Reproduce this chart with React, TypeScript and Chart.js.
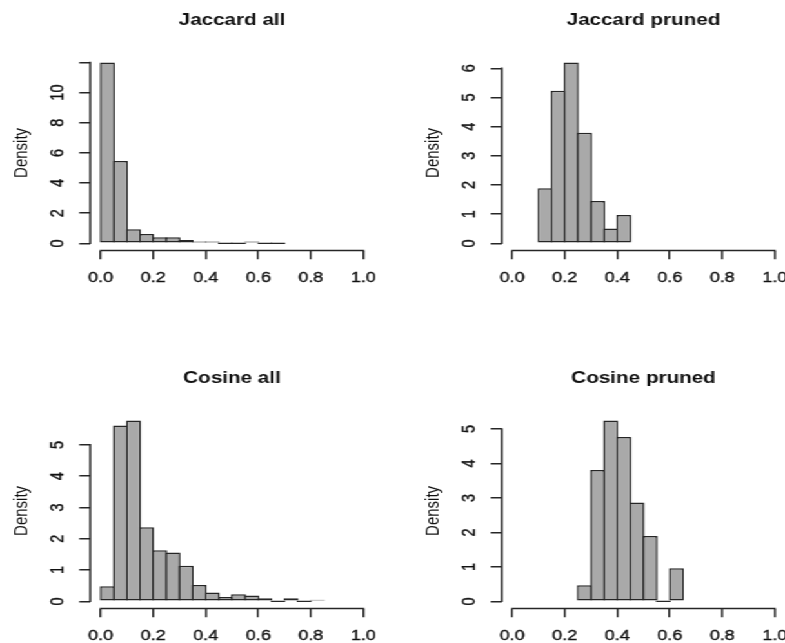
import React, { useEffect, useRef } from "react";
import { Chart, registerables } from "chart.js";

Chart.register(...registerables);

// ---------------- data ----------------
const binWidth = 0.05;
const xTickValues = [0, 0.2, 0.4, 0.6, 0.8, 1.0];
const xTickLabels = ["0.0", "0.2", "0.4", "0.6", "0.8", "1.0"];

const jaccardAllStart = 0;
const jaccardAllDensity = [12.0, 5.46, 0.93, 0.62, 0.41, 0.41, 0.22, 0.13, 0.13, 0, 0, 0.13, 0, 0];
const jaccardAllYTicks = [0, 2, 4, 6, 8, 10, 12];
const jaccardAllYLabels = ["0", "2", "4", "6", "8", "10", ""];

const jaccardPrunedStart = 0.1;
const jaccardPrunedDensity = [1.89, 5.23, 6.2, 3.79, 1.45, 0.51, 0.97];
const jaccardPrunedYTicks = [0, 1, 2, 3, 4, 5, 6];
const jaccardPrunedYLabels = ["0", "1", "2", "3", "4", "5", "6"];

const cosineAllStart = 0;
const cosineAllDensity = [0.48, 5.62, 5.78, 2.37, 1.63, 1.56, 1.14, 0.52, 0.28, 0.14, 0.23, 0.19, 0.1, 0, 0.1, 0, 0.05];
const cosineAllYTicks = [0, 1, 2, 3, 4, 5];
const cosineAllYLabels = ["0", "1", "2", "3", "4", "5"];

const cosinePrunedStart = 0.25;
const cosinePrunedDensity = [0.47, 3.81, 5.25, 4.77, 2.87, 1.9, 0, 0.96];
const cosinePrunedYTicks = [0, 1, 2, 3, 4, 5];
const cosinePrunedYLabels = ["0", "1", "2", "3", "4", "5"];

const panelTitles = ["Jaccard all", "Jaccard pruned", "Cosine all", "Cosine pruned"];

// ---------------- layout / style ----------------
const S = 1.29; // horizontal stretch of the picture
const PANEL_W = 412 / S;
const PANEL_H = 358;
const CANVAS_W = 320;
const AREA_LEFT = 69.92;
const AREA_RIGHT = 289.77;
const AREA_BOTTOM = 250.6;
const X_MIN = -0.04;
const X_MAX = 1.04;
const FONT = "'Liberation Sans', Arial, Helvetica, sans-serif";
const LINE = "#262626";
const FILL = "#a9a9a9";
const LW = 1.5;
const Y_TICK_FONT = 14.5;

const rAxisLines = {
  id: "rAxisLines",
  afterDraw(chart: any, _args: any, opts: any) {
    const { ctx, chartArea, scales } = chart;
    const xs = scales.x;
    const ys = scales.y;
    const xv = opts.xTicks as number[];
    const yv = opts.yTicks as number[];
    ctx.save();
    ctx.strokeStyle = LINE;
    ctx.lineWidth = LW;
    ctx.lineCap = "square";
    ctx.beginPath();
    ctx.moveTo(xs.getPixelForValue(xv[0]), chartArea.bottom);
    ctx.lineTo(xs.getPixelForValue(xv[xv.length - 1]), chartArea.bottom);
    ctx.moveTo(chartArea.left, ys.getPixelForValue(yv[0]));
    ctx.lineTo(chartArea.left, ys.getPixelForValue(yv[yv.length - 1]));
    ctx.stroke();
    ctx.restore();
  },
};

function measureWidest(labels: string[], size: number): number {
  const c = document.createElement("canvas").getContext("2d");
  if (!c) return 8;
  c.font = `${size}px ${FONT}`;
  let w = 0;
  for (const l of labels) w = Math.max(w, c.measureText(l).width);
  return w;
}

type PanelProps = {
  title: string;
  start: number;
  density: number[];
  yTicks: number[];
  yLabels: string[];
  left: number;
  top: number;
};

function Panel({ title, start, density, yTicks, yLabels, left, top }: PanelProps) {
  const ref = useRef<HTMLCanvasElement | null>(null);
  useEffect(() => {
    if (!ref.current) return;
    const ymax = Math.max(...density);
    const points = density.map((d, i) => ({ x: start + (i + 0.5) * binWidth, y: d }));
    const binPx = ((AREA_RIGHT - AREA_LEFT) / (X_MAX - X_MIN)) * binWidth;
    const widest = measureWidest(yLabels, Y_TICK_FONT);
    const yPad = 16.8 - widest / 2;
    const chart = new Chart(ref.current, {
      type: "bar",
      data: {
        datasets: [
          {
            data: points as any,
            backgroundColor: FILL,
            borderColor: LINE,
            borderWidth: LW,
            borderSkipped: false,
            barPercentage: (binPx + LW) / binPx,
            categoryPercentage: 1,
            minBarLength: LW,
            inflateAmount: 0,
          } as any,
        ],
      },
      options: {
        animation: false,
        responsive: false,
        devicePixelRatio: 1,
        events: [],
        layout: { padding: { left: 0, right: CANVAS_W - AREA_RIGHT, top: 0, bottom: 0 } },
        plugins: {
          legend: { display: false },
          tooltip: { enabled: false },
          title: {
            display: true,
            text: title,
            fullSize: false,
            color: "#111",
            font: { family: FONT, size: 16, weight: "bold" },
            padding: { top: 10.7, bottom: 25.3 },
          },
          rAxisLines: { xTicks: xTickValues, yTicks },
        } as any,
        scales: {
          x: {
            type: "linear",
            min: X_MIN,
            max: X_MAX,
            offset: false,
            afterBuildTicks: (s: any) => {
              s.ticks = xTickValues.map((v) => ({ value: v }));
            },
            afterFit: (s: any) => {
              s.height = PANEL_H - AREA_BOTTOM;
            },
            ticks: {
              autoSkip: false,
              minRotation: 0,
              maxRotation: 0,
              padding: 10,
              color: "#111",
              textStrokeColor: "#111",
              textStrokeWidth: 0.35,
              font: { family: FONT, size: 14 },
              callback: (_v: any, i: number) => xTickLabels[i],
            },
            grid: {
              display: true,
              drawOnChartArea: false,
              drawTicks: true,
              tickLength: 8.7,
              color: LINE,
              lineWidth: LW,
              offset: false,
            },
            border: { display: false },
          } as any,
          y: {
            type: "linear",
            min: -0.04 * ymax,
            max: 1.04 * ymax,
            afterBuildTicks: (s: any) => {
              s.ticks = yTicks.map((v) => ({ value: v }));
            },
            afterFit: (s: any) => {
              s.width = AREA_LEFT;
            },
            ticks: {
              autoSkip: false,
              minRotation: 90,
              maxRotation: 90,
              crossAlign: "center",
              padding: yPad,
              color: "#111",
              textStrokeColor: "#111",
              textStrokeWidth: 0.35,
              font: { family: FONT, size: Y_TICK_FONT },
              callback: (_v: any, i: number) => yLabels[i],
            },
            grid: {
              display: true,
              drawOnChartArea: false,
              drawTicks: true,
              tickLength: 8.5,
              color: LINE,
              lineWidth: LW,
            },
            border: { display: false },
            title: {
              display: true,
              text: "Density",
              color: "#111",
              font: { family: FONT, size: 15 },
              padding: { top: 8.2, bottom: 0 },
            },
          } as any,
        },
      },
      plugins: [rAxisLines as any],
    });
    return () => chart.destroy();
  }, [title, start, density, yTicks, yLabels]);

  return (
    <canvas
      ref={ref}
      width={CANVAS_W}
      height={PANEL_H}
      style={{ position: "absolute", left, top, width: CANVAS_W, height: PANEL_H }}
    />
  );
}

export default function App() {
  const panels = [
    { start: jaccardAllStart, density: jaccardAllDensity, yTicks: jaccardAllYTicks, yLabels: jaccardAllYLabels },
    { start: jaccardPrunedStart, density: jaccardPrunedDensity, yTicks: jaccardPrunedYTicks, yLabels: jaccardPrunedYLabels },
    { start: cosineAllStart, density: cosineAllDensity, yTicks: cosineAllYTicks, yLabels: cosineAllYLabels },
    { start: cosinePrunedStart, density: cosinePrunedDensity, yTicks: cosinePrunedYTicks, yLabels: cosinePrunedYLabels },
  ];
  return (
    <div
      style={{
        position: "absolute",
        left: 0,
        top: 0,
        width: 785,
        height: 643,
        overflow: "hidden",
        background: "#fff",
      }}
    >
      <div
        style={{
          position: "absolute",
          left: 0,
          top: 0,
          width: 785 / S,
          height: 643,
          transform: `scaleX(${S})`,
          transformOrigin: "0 0",
        }}
      >
        {panels.map((p, i) => (
          <Panel
            key={i}
            title={panelTitles[i]}
            start={p.start}
            density={p.density}
            yTicks={p.yTicks}
            yLabels={p.yLabels}
            left={(i % 2) * PANEL_W}
            top={Math.floor(i / 2) * PANEL_H}
          />
        ))}
      </div>
    </div>
  );
}
